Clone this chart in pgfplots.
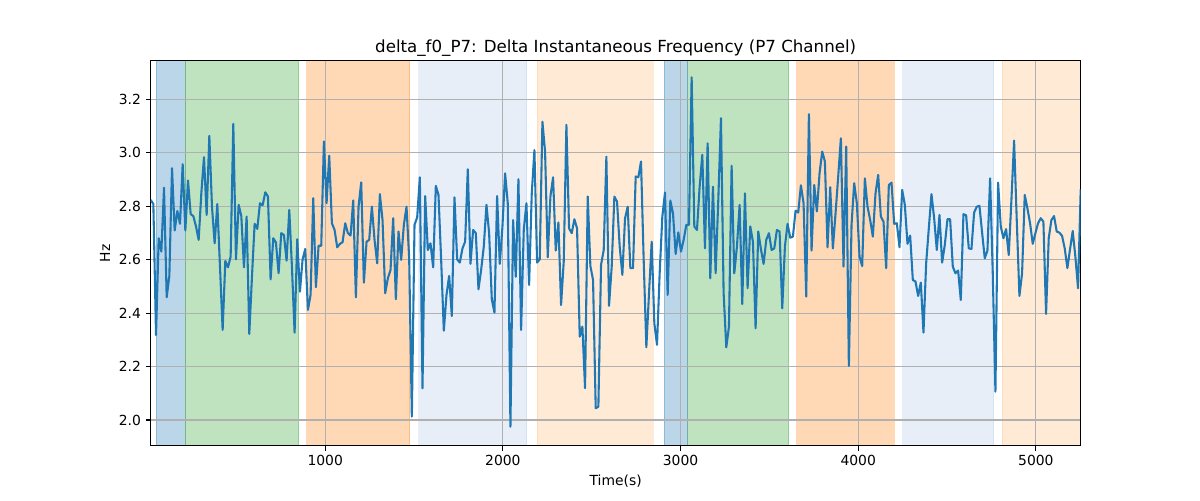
\documentclass[border=0pt]{standalone}
\usepackage{fontspec}
\setmainfont{DejaVu Sans}
\usepackage{pgfplots}
\usepackage{pgfplotstable}
\pgfplotsset{compat=1.18}
\definecolor{tabblue}{HTML}{1F77B4}
\definecolor{tabgreen}{HTML}{2CA02C}
\definecolor{taborange}{HTML}{FF7F0E}
\definecolor{ltblue}{HTML}{AEC7E8}
\definecolor{ltorange}{HTML}{FFBB78}
\definecolor{gridgray}{HTML}{B0B0B0}
\pgfplotstableread{
x y
17.5 2.823
32.5 2.808
47.5 2.318
62.5 2.680
77.5 2.630
92.5 2.869
107.5 2.459
122.5 2.539
137.5 2.942
152.5 2.709
167.5 2.782
182.5 2.734
197.5 2.957
212.5 2.709
227.5 2.896
242.5 2.770
257.5 2.763
272.5 2.724
287.5 2.674
302.5 2.848
317.5 2.983
332.5 2.767
347.5 3.063
362.5 2.798
377.5 2.661
392.5 2.808
407.5 2.574
422.5 2.337
437.5 2.595
452.5 2.571
467.5 2.611
482.5 3.108
497.5 2.601
512.5 2.805
527.5 2.763
542.5 2.571
557.5 2.761
572.5 2.322
587.5 2.536
602.5 2.734
617.5 2.715
632.5 2.811
647.5 2.803
662.5 2.852
677.5 2.836
692.5 2.526
707.5 2.680
722.5 2.664
737.5 2.549
752.5 2.699
767.5 2.692
782.5 2.596
797.5 2.786
812.5 2.574
827.5 2.327
842.5 2.676
857.5 2.480
872.5 2.601
887.5 2.640
902.5 2.412
917.5 2.468
932.5 2.830
947.5 2.497
962.5 2.652
977.5 2.652
992.5 3.042
1007.5 2.811
1022.5 2.989
1037.5 2.736
1052.5 2.711
1067.5 2.646
1082.5 2.659
1097.5 2.665
1112.5 2.736
1127.5 2.699
1142.5 2.690
1157.5 2.821
1172.5 2.459
1187.5 2.798
1202.5 2.889
1217.5 2.514
1232.5 2.667
1247.5 2.674
1262.5 2.798
1277.5 2.674
1292.5 2.586
1307.5 2.845
1322.5 2.748
1337.5 2.474
1352.5 2.530
1367.5 2.561
1382.5 2.755
1397.5 2.452
1412.5 2.705
1427.5 2.599
1442.5 2.730
1457.5 2.798
1472.5 2.605
1487.5 2.013
1502.5 2.730
1517.5 2.758
1532.5 2.908
1547.5 2.119
1562.5 2.838
1577.5 2.636
1592.5 2.661
1607.5 2.571
1622.5 2.876
1637.5 2.842
1652.5 2.599
1667.5 2.334
1682.5 2.468
1697.5 2.539
1712.5 2.389
1727.5 2.833
1742.5 2.601
1757.5 2.589
1772.5 2.642
1787.5 2.667
1802.5 2.938
1817.5 2.584
1832.5 2.711
1847.5 2.699
1862.5 2.489
1877.5 2.561
1892.5 2.649
1907.5 2.805
1922.5 2.699
1937.5 2.452
1952.5 2.402
1967.5 2.838
1982.5 2.584
1997.5 2.724
2012.5 2.923
2027.5 2.810
2042.5 1.975
2057.5 2.748
2072.5 2.536
2087.5 2.901
2102.5 2.337
2117.5 2.711
2132.5 2.811
2147.5 2.505
2162.5 2.848
2177.5 3.010
2192.5 2.589
2207.5 2.601
2222.5 3.116
2237.5 3.004
2252.5 2.609
2267.5 2.836
2282.5 2.908
2297.5 2.634
2312.5 2.739
2327.5 2.430
2342.5 2.593
2357.5 3.104
2372.5 2.717
2387.5 2.699
2402.5 2.751
2417.5 2.717
2432.5 2.312
2447.5 2.349
2462.5 2.119
2477.5 2.836
2492.5 2.576
2507.5 2.524
2522.5 2.044
2537.5 2.050
2552.5 2.580
2567.5 2.636
2582.5 2.985
2597.5 2.427
2612.5 2.574
2627.5 2.836
2642.5 2.817
2657.5 2.649
2672.5 2.543
2687.5 2.754
2702.5 2.798
2717.5 2.568
2732.5 2.568
2747.5 2.911
2762.5 2.908
2777.5 2.967
2792.5 2.599
2807.5 2.272
2822.5 2.474
2837.5 2.667
2852.5 2.362
2867.5 2.281
2882.5 2.549
2897.5 2.761
2912.5 2.851
2927.5 2.468
2942.5 2.821
2957.5 2.773
2972.5 2.621
2987.5 2.702
3002.5 2.630
3017.5 2.674
3032.5 2.730
3047.5 2.730
3062.5 3.282
3077.5 2.724
3092.5 2.711
3107.5 2.873
3122.5 2.992
3137.5 2.642
3152.5 3.035
3167.5 2.530
3182.5 2.873
3197.5 2.549
3212.5 2.823
3227.5 3.129
3242.5 2.474
3257.5 2.272
3272.5 2.349
3287.5 2.951
3302.5 2.549
3317.5 2.649
3332.5 2.805
3347.5 2.434
3362.5 2.848
3377.5 2.493
3392.5 2.724
3407.5 2.667
3422.5 2.343
3437.5 2.705
3452.5 2.639
3467.5 2.584
3482.5 2.674
3497.5 2.699
3512.5 2.636
3527.5 2.642
3542.5 2.711
3557.5 2.705
3572.5 2.418
3587.5 2.649
3602.5 2.734
3617.5 2.682
3632.5 2.686
3647.5 2.783
3662.5 2.776
3677.5 2.878
3692.5 2.811
3707.5 2.462
3722.5 3.144
3737.5 2.634
3752.5 2.879
3767.5 2.780
3782.5 2.923
3797.5 3.004
3812.5 2.967
3827.5 2.646
3842.5 2.871
3857.5 2.642
3872.5 2.773
3887.5 2.911
3902.5 3.054
3917.5 2.574
3932.5 3.023
3947.5 2.202
3962.5 2.730
3977.5 2.886
3992.5 2.810
4007.5 2.611
4022.5 2.576
4037.5 2.904
4052.5 2.798
4067.5 2.748
4082.5 2.686
4097.5 2.848
4112.5 2.917
4127.5 2.761
4142.5 2.742
4157.5 2.568
4172.5 2.879
4187.5 2.888
4202.5 2.734
4217.5 2.736
4232.5 2.646
4247.5 2.861
4262.5 2.805
4277.5 2.659
4292.5 2.690
4307.5 2.524
4322.5 2.518
4337.5 2.464
4352.5 2.514
4367.5 2.327
4382.5 2.586
4397.5 2.717
4412.5 2.845
4427.5 2.755
4442.5 2.636
4457.5 2.767
4472.5 2.589
4487.5 2.655
4502.5 2.751
4517.5 2.751
4532.5 2.574
4547.5 2.549
4562.5 2.559
4577.5 2.449
4592.5 2.770
4607.5 2.766
4622.5 2.642
4637.5 2.640
4652.5 2.776
4667.5 2.798
4682.5 2.801
4697.5 2.701
4712.5 2.605
4727.5 2.634
4742.5 2.904
4757.5 2.549
4772.5 2.106
4787.5 2.888
4802.5 2.724
4817.5 2.680
4832.5 2.714
4847.5 2.617
4862.5 2.823
4877.5 3.045
4892.5 2.748
4907.5 2.464
4922.5 2.549
4937.5 2.842
4952.5 2.792
4967.5 2.736
4982.5 2.659
4997.5 2.699
5012.5 2.736
5027.5 2.755
5042.5 2.742
5057.5 2.397
5072.5 2.680
5087.5 2.748
5102.5 2.763
5117.5 2.705
5132.5 2.701
5147.5 2.689
5162.5 2.642
5177.5 2.568
5192.5 2.639
5207.5 2.707
5222.5 2.611
5237.5 2.493
5252.5 2.863
}\datatab
\begin{document}
\begin{tikzpicture}
\begin{axis}[
  set layers,
  clip bounding box=upper bound,
  scale only axis, width=669.6pt, height=277.2pt,
  xmin=17.5, xmax=5252.5, ymin=1.904, ymax=3.344,
  xtick={1000,2000,3000,4000,5000},
  ytick={2.0,2.2,2.4,2.6,2.8,3.0,3.2},
  /pgf/number format/assume math mode=true,
  xticklabel style={/pgf/number format/1000 sep={}},
  yticklabel style={/pgf/number format/.cd, fixed, fixed zerofill, precision=1},
  tick label style={font=\fontsize{10}{12}\selectfont},
  tick align=outside, major tick length=3.5pt,
  xtick pos=left, ytick pos=left,
  every tick/.style={black, line width=0.8pt},
  axis line style={black, line width=0.8pt},
  grid=major,
  major grid style={gridgray, line width=0.8pt},
  title={delta\_f0\_P7: Delta Instantaneous Frequency (P7 Channel)},
  title style={at={(axis description cs:0.5,1.0216)}, anchor=base, yshift=-6pt, font=\fontsize{12}{14}\selectfont},
  xlabel={Time(s)},
  xlabel style={at={(axis description cs:0.5,-0.0916)}, anchor=center, font=\fontsize{10}{12}\selectfont},
  ylabel={Hz},
  ylabel style={at={(axis description cs:-0.0491,0.5)}, anchor=center, font=\fontsize{10}{12}\selectfont},
  span/.style={on layer=axis background, fill=#1, fill opacity=0.3, draw=#1, draw opacity=0.3, line width=0.7pt},
]
\addplot[span=tabblue] coordinates {(47.3,1.904) (47.3,3.344) (210.6,3.344) (210.6,1.904)} -- cycle;
\addplot[span=tabgreen] coordinates {(210.6,1.904) (210.6,3.344) (850.6,3.344) (850.6,1.904)} -- cycle;
\addplot[span=taborange] coordinates {(895.6,1.904) (895.6,3.344) (1477,3.344) (1477,1.904)} -- cycle;
\addplot[span=ltblue] coordinates {(1526,1.904) (1526,3.344) (2134,3.344) (2134,1.904)} -- cycle;
\addplot[span=ltorange] coordinates {(2192,1.904) (2192,3.344) (2845,3.344) (2845,1.904)} -- cycle;
\addplot[span=tabblue] coordinates {(2907,1.904) (2907,3.344) (3040,3.344) (3040,1.904)} -- cycle;
\addplot[span=tabgreen] coordinates {(3040,1.904) (3040,3.344) (3610,3.344) (3610,1.904)} -- cycle;
\addplot[span=taborange] coordinates {(3655,1.904) (3655,3.344) (4202,3.344) (4202,1.904)} -- cycle;
\addplot[span=ltblue] coordinates {(4252,1.904) (4252,3.344) (4763,3.344) (4763,1.904)} -- cycle;
\addplot[span=ltorange] coordinates {(4810,1.904) (4810,3.344) (5252.5,3.344) (5252.5,1.904)} -- cycle;
\addplot[tabblue, line width=1.5pt, no markers, line join=round] table[x=x, y=y] {\datatab};
\end{axis}
\path (-108.5pt,-39.1pt) rectangle (755.5pt,320.9pt);
\end{tikzpicture}
\end{document}
